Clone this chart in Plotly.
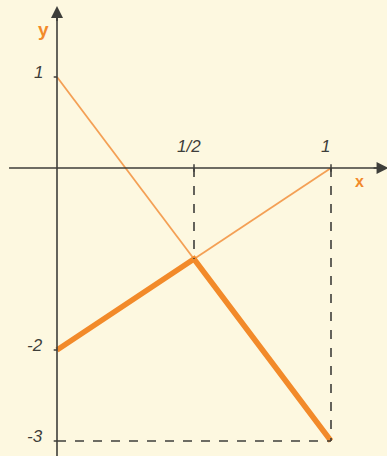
import plotly.graph_objs as go

# data
x_pts = [0, 0.5, 1]
y_line_a = [1, -1, -3]      # y = 1 - 4x
y_line_b = [-2, -1, 0]      # y = 2x - 2
y_min = [min(a, b) for a, b in zip(y_line_a, y_line_b)]
ytick_vals = [1, -2, -3]
ytick_text = ['1', '-2', '-3']
xtick_vals = [0.5, 1]
xtick_text = ['1/2', '1']

paper = '#fdf8e0'
ink = '#3e3e3a'
orange = '#f28a2a'
font = 'Liberation Sans'

data = [
    go.Scatter(x=x_pts, y=y_line_a, mode='lines',
               line=dict(color='#f4a055', width=1.8), hoverinfo='skip'),
    go.Scatter(x=x_pts, y=y_line_b, mode='lines',
               line=dict(color='#f4a055', width=1.8), hoverinfo='skip'),
    go.Scatter(x=x_pts, y=y_min, mode='lines',
               line=dict(color=orange, width=5.5), hoverinfo='skip'),
]

shapes = [
    # axes
    dict(type='line', x0=-0.175, x1=1.18, y0=0, y1=0, line=dict(color=ink, width=1.6)),
    dict(type='line', x0=0, x1=0, y0=-3.2, y1=1.75, line=dict(color=ink, width=1.6)),
    # dashed guides
    dict(type='line', x0=0.5, x1=0.5, y0=0, y1=-1, line=dict(color=ink, width=1.6, dash='dash')),
    dict(type='line', x0=1, x1=1, y0=0, y1=-3, line=dict(color=ink, width=1.6, dash='dash')),
    dict(type='line', x0=0, x1=1, y0=-3, y1=-3, line=dict(color=ink, width=1.6, dash='dash')),
]
for v in ytick_vals:
    shapes.append(dict(type='line', x0=-0.012, x1=0, y0=v, y1=v, line=dict(color=ink, width=1.5)))
for v in xtick_vals:
    shapes.append(dict(type='line', x0=v, x1=v, y0=0.04, y1=-0.04, line=dict(color=ink, width=1.5)))

annotations = [
    # arrow heads
    dict(x=1.21, y=0, ax=1.15, ay=0, xref='x', yref='y', axref='x', ayref='y',
         showarrow=True, arrowhead=2, arrowsize=1.5, arrowwidth=1.6, arrowcolor=ink, text=''),
    dict(x=0, y=1.78, ax=0, ay=1.6, xref='x', yref='y', axref='x', ayref='y',
         showarrow=True, arrowhead=2, arrowsize=1.5, arrowwidth=1.6, arrowcolor=ink, text=''),
    dict(x=-0.05, y=1.52, text='<b>y</b>', showarrow=False,
         font=dict(family=font, size=19, color=orange)),
    dict(x=1.105, y=-0.15, text='<b>x</b>', showarrow=False,
         font=dict(family=font, size=16, color=orange)),
]
for v, t in zip(ytick_vals, ytick_text):
    annotations.append(dict(x=-0.045, y=v + 0.05, text='<i>' + t + '</i>', showarrow=False,
                            xanchor='right', font=dict(family=font, size=17, color=ink)))
for v, t in zip(xtick_vals, xtick_text):
    annotations.append(dict(x=v - 0.02, y=0.24, text='<i>' + t + '</i>', showarrow=False,
                            font=dict(family=font, size=17, color=ink)))

layout = go.Layout(
    width=387, height=456,
    margin=dict(l=0, r=0, t=0, b=0),
    paper_bgcolor=paper, plot_bgcolor=paper,
    showlegend=False,
    xaxis=dict(range=[-57 / 274, 330 / 274], visible=False, fixedrange=True),
    yaxis=dict(range=[-288 / 91, 168 / 91], visible=False, fixedrange=True),
    shapes=shapes,
    annotations=annotations,
)
fig = go.Figure(data=data, layout=layout)
fig.write_html('out.html', config={'displayModeBar': False},
               post_script="document.body.style.margin='0';document.body.style.background='" + paper + "';")
